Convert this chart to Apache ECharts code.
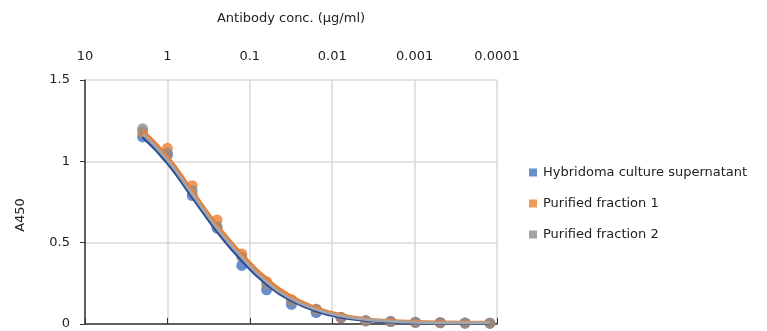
<!DOCTYPE html>
<html>
<head>
<meta charset="utf-8">
<script src="https://cdn.jsdelivr.net/npm/echarts@6/dist/echarts.min.js"></script>
<style>html,body{margin:0;padding:0;background:#fff;}#c{width:767px;height:331px;}</style>
</head>
<body>
<div id="c"></div>
<script>
var conc = [2, 1, 0.5, 0.25, 0.125, 0.0625, 0.03125, 0.015625, 0.0078125, 0.00390625, 0.001953125, 0.0009765625, 0.00048828125, 0.000244140625, 0.0001220703125];
var seriesNames = ['Hybridoma culture supernatant', 'Purified fraction 1', 'Purified fraction 2'];
var hybridoma = [1.15, 1.04, 0.79, 0.59, 0.36, 0.21, 0.12, 0.07, 0.04, 0.02, 0.015, 0.01, 0.008, 0.006, 0.005];
var purified1 = [1.18, 1.08, 0.85, 0.64, 0.43, 0.26, 0.15, 0.09, 0.04, 0.02, 0.015, 0.01, 0.008, 0.006, 0.005];
var purified2 = [1.20, 1.05, 0.82, 0.60, 0.41, 0.24, 0.14, 0.09, 0.04, 0.02, 0.015, 0.01, 0.008, 0.006, 0.005];
// fitted curves at each concentration
var fitHybridoma = [1.15, 0.99, 0.78, 0.57, 0.39, 0.245, 0.145, 0.08, 0.042, 0.022, 0.012, 0.007, 0.005, 0.004, 0.004];
var fitPurified1 = [1.19, 1.03, 0.82, 0.61, 0.43, 0.28, 0.17, 0.10, 0.057, 0.033, 0.021, 0.015, 0.012, 0.011, 0.011];
var fitPurified2 = [1.17, 1.01, 0.80, 0.59, 0.41, 0.26, 0.155, 0.09, 0.05, 0.028, 0.017, 0.011, 0.008, 0.007, 0.007];
var xTickLabels = ['10', '1', '0.1', '0.01', '0.001', '0.0001'];
var yTickLabels = ['0', '0.5', '1', '1.5'];

var colors = ['#4472C4', '#ED7D31', '#8C8C8C'];
var lineColors = ['#2F4E99', '#ED7D31', '#A5A5A5'];
var font = '"DejaVu Sans", sans-serif';

function pairs(ys) { return conc.map(function (c, i) { return [c, ys[i]]; }); }

var chart = echarts.init(document.getElementById('c'));
var scatterData = [hybridoma, purified1, purified2];
var fitData = [fitHybridoma, fitPurified1, fitPurified2];
var series = [];
scatterData.forEach(function (d, i) {
  series.push({
    name: seriesNames[i], type: 'scatter', data: pairs(d), symbol: 'circle', symbolSize: 11,
    itemStyle: { color: colors[i] }, z: 2
  });
});
fitData.forEach(function (d, i) {
  series.push({
    name: seriesNames[i] + ' fit', type: 'line', data: pairs(d), smooth: 0.5,
    symbol: 'none', lineStyle: { color: lineColors[i], width: 3 }, z: 3, silent: true
  });
});

chart.setOption({
  animation: false,
  textStyle: { fontFamily: font },
  grid: { left: 85, right: 270, top: 80, bottom: 7 },
  legend: {
    data: seriesNames, orient: 'vertical', left: 524, top: 159, itemGap: 14,
    itemWidth: 8, itemHeight: 8, icon: 'rect',
    textStyle: { fontSize: 13, color: '#222', fontFamily: font, lineHeight: 17, padding: [0, 0, 0, 1] }
  },
  xAxis: {
    type: 'log', logBase: 10, min: 0.0001, max: 10, inverse: true, position: 'top',
    name: 'Antibody conc. (μg/ml)', nameLocation: 'middle', nameGap: 55,
    nameTextStyle: { fontSize: 13, color: '#222' },
    axisLine: { show: true, lineStyle: { color: '#333', width: 1.5 } },
    axisTick: { show: true, length: 6, lineStyle: { color: '#333' } },
    axisLabel: {
      fontSize: 13, color: '#222', margin: 17,
      formatter: function (v) { var i = Math.round(1 - Math.log10(v)); return xTickLabels[i] || ''; }
    },
    splitLine: { show: true, lineStyle: { color: '#D9D9D9', width: 1.5 } },
    minorTick: { show: false }
  },
  yAxis: {
    type: 'value', min: 0, max: 1.5, interval: 0.5,
    name: 'A450', nameLocation: 'middle', nameGap: 58, nameRotate: 90,
    nameTextStyle: { fontSize: 13, color: '#222', padding: [0, 26, 0, 0] },
    axisLine: { show: true, lineStyle: { color: '#333', width: 1.5 } },
    axisTick: { show: true, length: 5, lineStyle: { color: '#333' } },
    axisLabel: {
      fontSize: 13, color: '#222', margin: 15,
      formatter: function (v) { return yTickLabels[Math.round(v / 0.5)]; }
    },
    splitLine: { show: true, lineStyle: { color: '#D9D9D9', width: 1.5 } }
  },
  series: series
});
</script>
</body>
</html>
